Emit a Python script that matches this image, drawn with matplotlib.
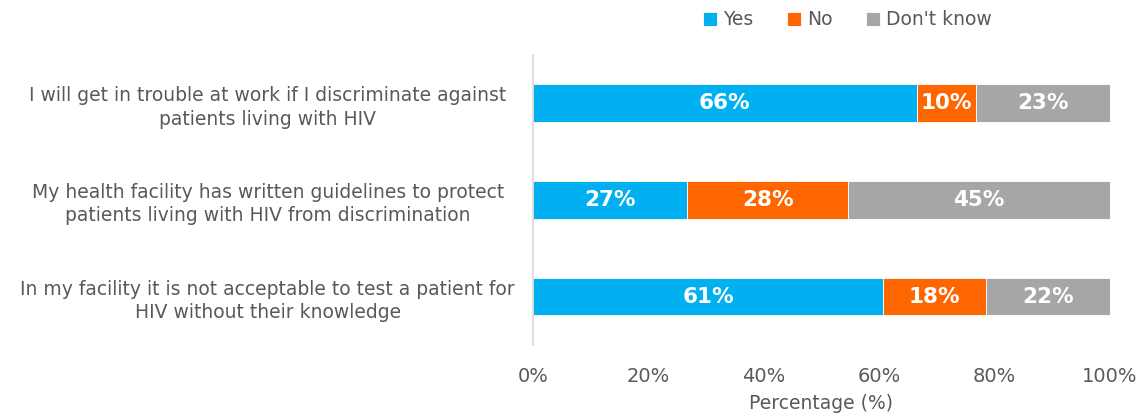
import matplotlib
matplotlib.use("Agg")
import matplotlib.pyplot as plt
import numpy as np

# statements (top to bottom)
statements = [
    "I will get in trouble at work if I discriminate against\npatients living with HIV",
    "My health facility has written guidelines to protect\npatients living with HIV from discrimination",
    "In my facility it is not acceptable to test a patient for\nHIV without their knowledge",
]
yes = [66.5, 26.7, 60.7]
no = [10.2, 27.9, 17.8]
dont_know = [23.3, 45.4, 21.5]
labels_yes = ["66%", "27%", "61%"]
labels_no = ["10%", "28%", "18%"]
labels_dk = ["23%", "45%", "22%"]

series = [("Yes", yes, labels_yes, "#00B0F0"),
          ("No", no, labels_no, "#FF6600"),
          ("Don't know", dont_know, labels_dk, "#A6A6A6")]

grey = "#595959"
plt.rcParams['font.family'] = ['DejaVu Sans']

fig = plt.figure(figsize=(11.42, 4.16), dpi=100)
ax = fig.add_axes([0.4667, 0.171, 0.5053, 0.697])

y = np.arange(len(statements))
left = np.zeros(len(statements))
for name, vals, labs, col in series:
    vals = np.array(vals)
    bars = ax.barh(y, vals, left=left, height=0.39, color=col, label=name,
                   edgecolor="white", linewidth=0.6)
    for i, b in enumerate(bars):
        ax.text(left[i] + vals[i] / 2, y[i], labs[i], ha="center", va="center",
                color="white", fontsize=15.5, fontweight="bold")
    left = left + vals

ax.set_ylim(2.5, -0.5)
ax.set_xlim(0, 100)
ax.set_xticks([0, 20, 40, 60, 80, 100])
ax.set_xticklabels([f"{t}%" for t in [0, 20, 40, 60, 80, 100]])
ax.set_yticks(y)
ax.set_yticklabels(statements, fontsize=13.5, color=grey, ha="center",
                   linespacing=1.3)
ax.tick_params(axis="y", length=0, pad=191)
ax.tick_params(axis="x", length=0, labelsize=14, labelcolor=grey, pad=16)
for s in ["top", "right", "bottom"]:
    ax.spines[s].set_visible(False)
ax.spines["left"].set_color("#D9D9D9")
ax.spines["left"].set_linewidth(1.2)
ax.set_xlabel("Percentage (%)", fontsize=13.5, color=grey, labelpad=6)

fig.legend(loc="center", bbox_to_anchor=(0.742, 0.952), ncol=3, frameon=False,
           fontsize=13.5, labelcolor=grey, handlelength=0.75, handleheight=0.75,
           handletextpad=0.3, columnspacing=1.8)

fig.savefig("out.png", dpi=100)
